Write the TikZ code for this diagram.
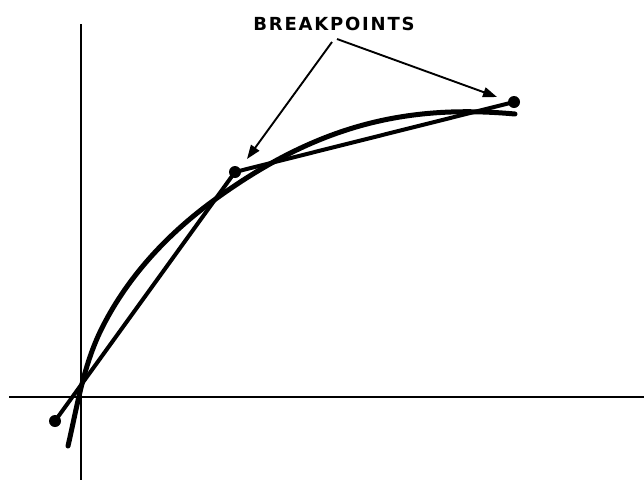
\documentclass[tikz,border=0pt]{standalone}
\usepackage{fontspec}
\setmainfont{DejaVu Sans}
\usetikzlibrary{arrows.meta}
\begin{document}
\begin{tikzpicture}[x=1pt,y=-1pt,
  axis/.style={line width=1.7pt},
  seg/.style={line width=4pt,line cap=round},
  curv/.style={line width=5pt,line cap=round},
  ptr/.style={line width=1.9pt,-{Triangle[length=14pt,width=10pt]}},
  bp/.style={circle,fill=black,inner sep=0pt,minimum size=12pt}]
\useasboundingbox (0,0) rectangle (644,480);
% axes
\coordinate (yt) at (81,24);
\coordinate (yb) at (81,480);
\coordinate (xl) at (9,397);
\coordinate (xr) at (644,397);
\draw[axis] (yt) -- (yb);
\draw[axis] (xl) -- (xr);
% curve
\draw[curv] (68,446) .. controls (77,407) and (83,368) .. (100,332)
  .. controls (126,278) and (168,233) .. (217,198)
  .. controls (317,126) and (405,104) .. (515,114);
% breakpoints
\node[bp] (b0) at (55,421) {};
\node[bp] (b1) at (235,172) {};
\node[bp] (b2) at (514,102) {};
\draw[seg] (b0.center) -- (b1.center) -- (b2.center);
% label
\node (lbl) at (334,24) {\addfontfeature{LetterSpace=10}\fontsize{18}{20}\selectfont\bfseries BREAKPOINTS};
\coordinate (s1) at (332,42);
\coordinate (s2) at (337,39);
\coordinate (t1) at (247,159);
\coordinate (t2) at (497,97);
\draw[ptr] (s1) -- (t1);
\draw[ptr] (s2) -- (t2);
\end{tikzpicture}
\end{document}
